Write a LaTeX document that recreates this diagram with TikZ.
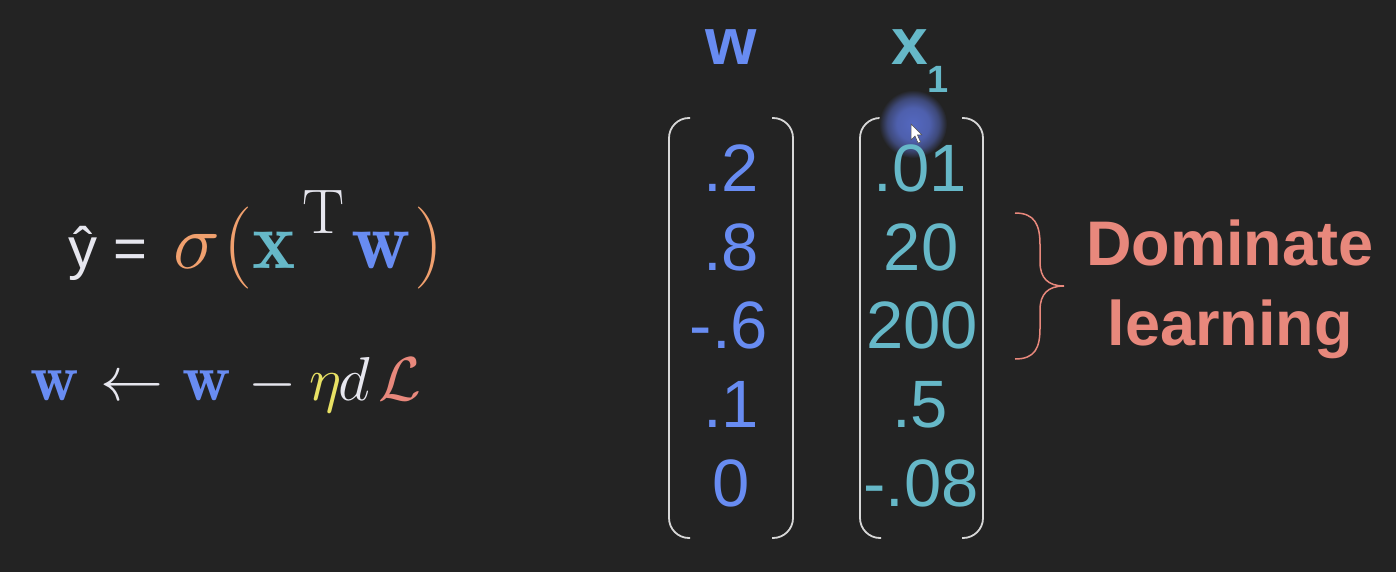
\RequirePackage{fix-cm}
\documentclass[tikz,border=0pt]{standalone}
\usepackage{amsmath}
\usepackage{fontspec}
\newfontfamily\rob{Liberation Sans}
\definecolor{bg}{RGB}{35,35,35}
\definecolor{wblue}{RGB}{104,140,242}
\definecolor{xteal}{RGB}{102,184,200}
\definecolor{sorange}{RGB}{240,160,110}
\definecolor{salmon}{RGB}{232,136,124}
\definecolor{eyellow}{RGB}{232,225,100}
\definecolor{txt}{RGB}{230,230,238}
\definecolor{brk}{RGB}{215,215,215}
\definecolor{hl}{RGB}{84,104,192}
\pgfdeclareradialshading{glow}{\pgfpoint{0bp}{0bp}}{color(0bp)=(hl); color(12bp)=(hl!88!bg); color(19bp)=(hl!55!bg); color(25bp)=(bg); color(50bp)=(bg)}
\tikzset{
  entry/.style={anchor=base, inner sep=0pt, font=\rob\fontsize{67}{70}\selectfont},
  went/.style={entry, text=wblue},
  xent/.style={entry, text=xteal},
  sym/.style={anchor=base, inner sep=0pt},
  bracketline/.style={draw=brk, line width=1.8pt, rounded corners=20pt},
  bracelne/.style={draw=salmon, line width=1.5pt},
  label/.style={anchor=base, inner sep=0pt, text=salmon, font=\rob\bfseries\fontsize{63}{66}\selectfont}
}
\newcommand{\fsz}[1]{\fontsize{#1}{#1}\selectfont}
\begin{document}
\begin{tikzpicture}[x=1pt,y=-1pt]
\fill[bg] (0,0) rectangle (1396,572);
\useasboundingbox (0,0) rectangle (1396,572);

% formula 1
\node[anchor=base west, inner sep=0pt, text=txt, font=\rob\fontsize{58}{60}\selectfont] (yhat) at (68,268) {ŷ =};
\node[sym, text=sorange] (sig) at (197,268) {\fsz{79}$\sigma$};
\node[sym, text=sorange] (lp) at (238,268) {\fsz{82}$($};
\node[sym, text=xteal] (fx) at (274,268) {\fsz{82}$\mathbf{x}$};
\node[sym, text=txt] (fT) at (323.5,233) {\fsz{63}$\mathrm{T}$};
\node[sym, text=wblue] (fw) at (381,268) {\fsz{82}$\mathbf{w}$};
\node[sym, text=sorange] (rp) at (429,268) {\fsz{82}$)$};

% formula 2
\node[sym, text=wblue] (gw1) at (55,400) {\fsz{67}$\mathbf{w}$};
\node[sym, text=txt] (garr) at (131.5,400) {\fsz{63}$\leftarrow$};
\node[sym, text=wblue] (gw2) at (206.5,400) {\fsz{67}$\mathbf{w}$};
\node[sym, text=txt] (gmin) at (273,400) {\fsz{62}$-$};
\node[sym, text=eyellow] (geta) at (326,400) {\fsz{62}$\eta$};
\node[sym, text=txt] (gd) at (354,400) {\fsz{62}$d$};
\node[sym, text=salmon] (gL) at (400,400) {\fsz{62}$\mathcal{L}$};

% headers
\node[inner sep=0pt, text=wblue, font=\rob\bfseries\fontsize{66}{70}\selectfont] (wh) at (731,47) {w};
\node[inner sep=0pt, text=xteal, font=\rob\bfseries\fontsize{66}{70}\selectfont] (xh) at (910,47) {x};
\node[inner sep=0pt, text=xteal, font=\rob\bfseries\fontsize{38}{40}\selectfont] (xsub) at (938,79) {1};

% brackets
\draw[bracketline] (690,118) -- (669,118) -- (669,538) -- (690,538);
\draw[bracketline] (772,118) -- (793,118) -- (793,538) -- (772,538);
\draw[bracketline] (881,118) -- (860,118) -- (860,538) -- (881,538);
\draw[bracketline] (962,118) -- (983,118) -- (983,538) -- (962,538);

% mouse highlight
\shade[shading=glow] (913,124) circle (34);

% w entries
\node[went] (w1) at (731,192) {.2};
\node[went] (w2) at (731,270) {.8};
\node[went] (w3) at (729,348) {-.6};
\node[went] (w4) at (731,427) {.1};
\node[went] (w5) at (731,506) {0};

% x entries
\node[xent] (x1) at (920,192) {.01};
\node[xent] (x2) at (921,270) {20};
\node[xent] (x3) at (922,348) {200};
\node[xent] (x4) at (920,427) {.5};
\node[xent] (x5) at (921,506) {-.08};

% cursor
\filldraw[fill=white, draw=black!70, line width=0.5pt] (911,124) -- (911,140) -- (915,136) -- (918,143) -- (920.5,142) -- (917.5,135) -- (922,135) -- cycle;

% brace
\draw[bracelne] (1015,213) .. controls (1035,213) and (1040,225) .. (1040,245) -- (1040,262) .. controls (1040,278) and (1048,286) .. (1064,286) .. controls (1048,286) and (1040,294) .. (1040,310) -- (1040,328) .. controls (1040,348) and (1035,359) .. (1015,359);

% label
\node[label] (dom) at (1230,265) {Dominate};
\node[label] (lrn) at (1230,345) {learning};
\end{tikzpicture}
\end{document}
